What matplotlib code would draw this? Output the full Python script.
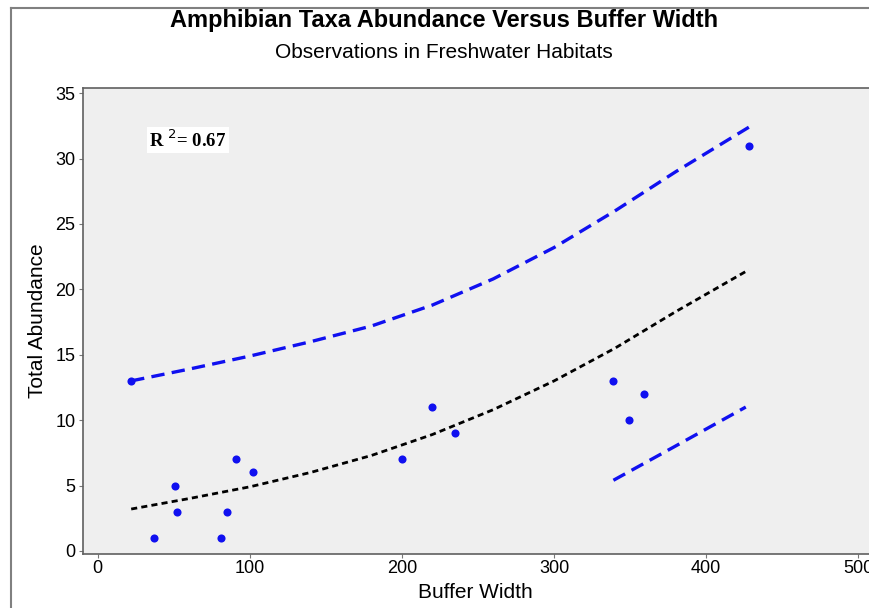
import numpy as np
import matplotlib.pyplot as plt
from matplotlib.lines import Line2D

# observations
buffer_w = [37, 51, 52, 81, 85, 91, 102, 22, 200, 220, 235, 339, 349, 359, 428]
abundance = [1, 5, 3, 1, 3, 7, 6, 13, 7, 11, 9, 13, 10, 12, 31]

# fitted curve (black dotted)
fit_x = [22, 60, 100, 140, 180, 220, 260, 300, 340, 380, 428]
fit_y = [3.2, 4.0, 4.9, 6.0, 7.3, 8.9, 10.8, 13.0, 15.5, 18.3, 21.5]

# upper band (blue dashed)
up_x = [22, 60, 100, 140, 180, 220, 260, 300, 340, 380, 428]
up_y = [13.0, 13.9, 14.9, 16.0, 17.2, 18.8, 20.8, 23.2, 26.0, 29.0, 32.4]

# lower band (blue dashed)
lo_x = [339, 378, 426]
lo_y = [5.4, 7.9, 11.0]

W, H = 869, 608
fig = plt.figure(figsize=(W/100, H/100), dpi=100)
plt.rcParams['font.family'] = ['Liberation Sans', 'DejaVu Sans']

ax = fig.add_axes([82.5/W, 1-553.5/H, 1-82.5/W, (553.5-88)/H])
ax.set_facecolor('#efefef')

blue = '#1010f0'
ax.plot(up_x, up_y, color=blue, lw=2.4, dashes=(4, 2.2))
ax.plot(lo_x, lo_y, color=blue, lw=2.4, dashes=(4, 2.2))
ax.plot(fit_x, fit_y, color='black', lw=2.0, dashes=(2.2, 1.5))
ax.scatter(buffer_w, abundance, s=34, color=blue, zorder=5, linewidths=0)

ax.set_xlim(-10, 507)
ax.set_ylim(-0.2, 35.4)
ax.set_xticks([0, 100, 200, 300, 400, 500])
ax.set_yticks([0, 5, 10, 15, 20, 25, 30, 35])
ax.tick_params(labelsize=13, length=3, color='#777777', pad=2)
for s in ['left', 'bottom', 'top']:
    ax.spines[s].set_color('#606060')
    ax.spines[s].set_linewidth(1.2)
ax.spines['right'].set_visible(False)

ax.set_xlabel('Buffer Width', fontsize=15, labelpad=4)
ax.set_ylabel('Total Abundance', fontsize=15, labelpad=6)

ax.text(34, 31.4, 'R $^2$= 0.67', family='Liberation Serif', fontweight='bold',
        fontsize=13.5, va='center', ha='left',
        bbox=dict(facecolor='white', edgecolor='none', pad=1.5))

fig.text(444/W, 1-21/H, 'Amphibian Taxa Abundance Versus Buffer Width',
         ha='center', va='center', fontsize=17, fontweight='bold')
fig.text(444/W, 1-52/H, 'Observations in Freshwater Habitats',
         ha='center', va='center', fontsize=15)

# outer frame
fig.add_artist(Line2D([11/W, 11/W], [0, 1-8/H], color='#808080', lw=1.5, transform=fig.transFigure))
fig.add_artist(Line2D([11/W, 1], [1-8/H, 1-8/H], color='#808080', lw=1.5, transform=fig.transFigure))

fig.savefig('out.png', dpi=100)
